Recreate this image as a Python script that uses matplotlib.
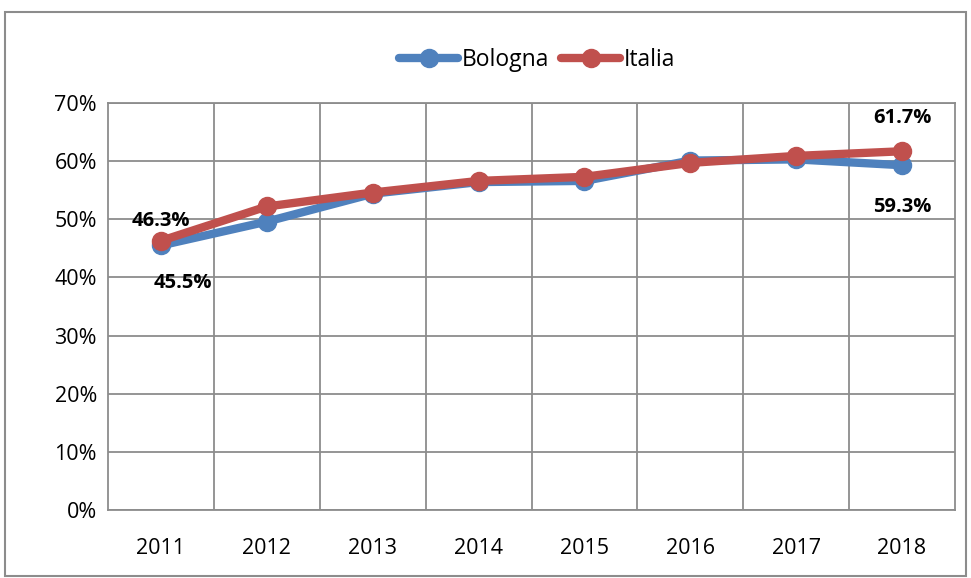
import matplotlib.pyplot as plt
from matplotlib.patches import Rectangle
from matplotlib.ticker import PercentFormatter

years = ["2011", "2012", "2013", "2014", "2015", "2016", "2017", "2018"]
bologna = [45.5, 49.6, 54.4, 56.4, 56.6, 60.1, 60.3, 59.3]
italia = [46.3, 52.2, 54.6, 56.6, 57.3, 59.7, 60.9, 61.7]

plt.rcParams['font.family'] = ['Open Sans', 'DejaVu Sans']

fig = plt.figure(figsize=(9.71, 5.78), dpi=100)
fig.patches.append(Rectangle((0.005, 0.003), 0.99, 0.976, transform=fig.transFigure,
                             fill=False, edgecolor='#8c8c8c', linewidth=1.5))
ax = fig.add_axes([108 / 971, 1 - 510 / 578, (955 - 108) / 971, (510 - 103) / 578])

x = list(range(len(years)))
ax.plot(x, bologna, color='#4f81bd', linewidth=6, marker='o', markersize=13,
        label='Bologna', solid_capstyle='round')
ax.plot(x, italia, color='#c0504d', linewidth=6, marker='o', markersize=13,
        label='Italia', solid_capstyle='round')

ax.set_xlim(-0.5, len(years) - 0.5)
ax.set_ylim(0, 70)
ax.set_yticks(range(0, 71, 10))
ax.yaxis.set_major_formatter(PercentFormatter(decimals=0))
ax.set_xticks(x)
ax.set_xticklabels(years)
ax.set_xticks([i + 0.5 for i in x[:-1]], minor=True)
ax.grid(True, which='minor', axis='x', color='#8c8c8c', linewidth=1.3)
ax.grid(True, which='major', axis='y', color='#8c8c8c', linewidth=1.3)
ax.tick_params(axis='both', which='both', length=0, labelsize=15.5, colors='black')
ax.tick_params(axis='x', pad=20)
ax.tick_params(axis='y', pad=8)
for s in ax.spines.values():
    s.set_color('#8c8c8c')
    s.set_linewidth(1.3)
ax.set_axisbelow(True)

lbl = dict(fontsize=14.5, fontweight='bold', ha='center', va='center')
ax.annotate(f"{italia[0]:.1f}%", (x[0], italia[0]), xytext=(0, 14), textcoords='offset points', **lbl)
ax.annotate(f"{bologna[0]:.1f}%", (x[0], bologna[0]), xytext=(16, -27), textcoords='offset points', **lbl)
ax.annotate(f"{italia[-1]:.1f}%", (x[-1], italia[-1]), xytext=(0, 24), textcoords='offset points', **lbl)
ax.annotate(f"{bologna[-1]:.1f}%", (x[-1], bologna[-1]), xytext=(0, -30), textcoords='offset points', **lbl)

fig.legend(loc='center', bbox_to_anchor=(537 / 971, 1 - 60 / 578), ncol=2, frameon=False,
           fontsize=16.5, handlelength=2.6, handletextpad=0.15, columnspacing=0.5)

fig.savefig('out.png', dpi=100)
